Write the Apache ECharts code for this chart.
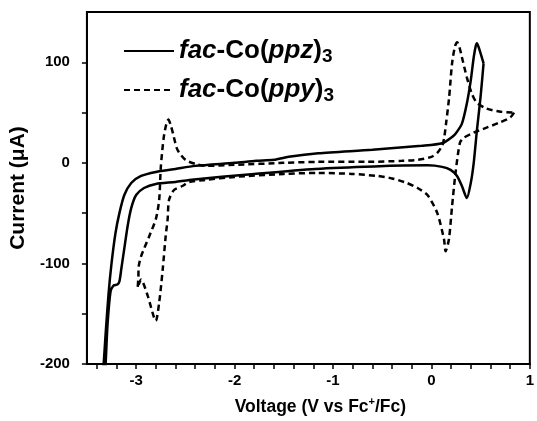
<!DOCTYPE html>
<html>
<head>
<meta charset="utf-8">
<script src="https://cdn.jsdelivr.net/npm/echarts@6/dist/echarts.min.js"></script>
<style>
html,body{margin:0;padding:0;background:#fff;}
#c{width:537px;height:421px;}
</style>
</head>
<body>
<div id="c"></div>
<script>
// fac-Co(ppz)3 : voltage (V vs Fc+/Fc) and current (µA), one closed CV loop
const ppzV = [0.53, 0.50, 0.463, 0.43, 0.40, 0.36, 0.31, 0.26, 0.195, 0.11, -0.04, -0.58, -1.18, -1.8, -2.46, -2.6, -2.8, -2.92, -3.0, -3.05, -3.085, -3.12, -3.15, -3.17, -3.19, -3.23, -3.26, -3.29, -3.31, -3.32,
              -3.345, -3.33, -3.31, -3.28, -3.25, -3.21, -3.17, -3.12, -3.05, -2.95, -2.8, -2.6, -2.4, -2.0, -1.78, -1.6, -1.45, -1.15, -0.6, -0.1, 0.11, 0.2, 0.245, 0.31, 0.36, 0.40, 0.43, 0.45, 0.463, 0.48, 0.53];
const ppzI = [99, 66, 33, 0, -20, -35, -23, -13, -7, -4, -2.5, -3.5, -6, -11, -17, -19, -21, -25, -32, -45, -62, -85, -105, -118, -121, -122, -128, -160, -200, -215,
              -215, -200, -170, -130, -100, -70, -50, -32, -20, -13, -9, -6, -3, 0, 2, 3, 6, 9.5, 13, 17, 19.5, 25, 29, 39, 59, 82, 105, 116, 119, 115, 99];

// fac-Co(ppy)3
const ppyV = [0.84, 0.80, 0.69, 0.56, 0.43, 0.33, 0.29, 0.245, 0.21, 0.178, 0.144, 0.128, 0.06, -0.04, -0.14, -0.25, -0.4, -0.55, -0.81, -1.15, -1.5, -2.0, -2.3, -2.46, -2.53, -2.615, -2.666, -2.68, -2.70, -2.73, -2.766, -2.80,
              -2.883, -2.95, -2.984, -2.977, -2.974, -2.95, -2.867, -2.80, -2.766, -2.749, -2.72, -2.69, -2.672, -2.65, -2.625, -2.58, -2.50, -2.40, -2.30, -2.0, -1.5, -1.15, -0.65, -0.3, -0.14, 0.0, 0.06, 0.11, 0.13, 0.15, 0.18, 0.21, 0.24, 0.262, 0.285, 0.31, 0.36, 0.41, 0.46, 0.56, 0.69, 0.84];
const ppyI = [50, 45, 40, 35, 30, 25, 20, -10, -43, -76, -88, -76, -50, -32, -25, -20, -15.5, -13, -11, -10, -11, -14, -17, -19, -23, -27, -37, -56, -73, -106, -139, -157,
              -132, -116, -124, -113, -103, -93, -73, -56, -37, -4, 25, 40, 43, 38, 29, 13, 3, -1, -3, -2, 0, 1, 1, 2, 3, 6, 10, 17, 25, 40, 65, 99, 116, 120, 115, 105, 85, 69, 60, 54, 51, 50];

const xMajor = [-3, -2, -1, 0, 1];
const yMajor = [-200, -100, 0, 100];

const zip = (a, b) => a.map((v, i) => [v, b[i]]);
const minorX = [];
for (let k = -17; k <= 5; k++) { const v = +(k * 0.2).toFixed(1); if (v > -3.5 && v < 1 && Math.abs(v - Math.round(v)) > 1e-9) minorX.push(v); }
const minorY = [-150, -50, 50];

const FONT = '"Liberation Sans", Arial, sans-serif';
const chart = echarts.init(document.getElementById('c'), null, {renderer: 'canvas'});
const richLegend = {
  bi: {fontFamily: FONT, fontSize: 26, fontWeight: 'bold', fontStyle: 'italic', color: '#000', lineHeight: 30},
  b: {fontFamily: FONT, fontSize: 26, fontWeight: 'bold', color: '#000', lineHeight: 30},
  sub: {fontFamily: FONT, fontSize: 19, fontWeight: 'bold', color: '#000', lineHeight: 12, verticalAlign: 'bottom'}
};
chart.setOption({
  animation: false,
  backgroundColor: '#fff',
  grid: {left: 86, right: 2, top: 12, bottom: 56, show: true, borderColor: '#000', borderWidth: 2, containLabel: false},
  legend: {
    orient: 'vertical', left: 118, top: 33, itemWidth: 50, itemHeight: 20, itemGap: 11,
    data: ['ppz', 'ppy'],
    itemStyle: {color: 'rgba(0,0,0,0)', borderWidth: 0, borderColor: 'rgba(0,0,0,0)'},
    formatter: function (n) {
      return n === 'ppz' ? '{bi|fac}{b|-Co(}{bi|ppz}{b|)}{sub|3}' : '{bi|fac}{b|-Co(}{bi|ppy}{b|)}{sub|3}';
    },
    textStyle: {rich: richLegend}
  },
  xAxis: [{
    type: 'value', min: -3.5, max: 1,
    splitLine: {show: false},
    axisLine: {show: true, onZero: false, lineStyle: {color: '#000', width: 2}},
    axisTick: {show: true, length: 5, customValues: xMajor.concat(minorX), lineStyle: {color: '#000', width: 1.5}},
    axisLabel: {customValues: xMajor, color: '#000', fontFamily: FONT, fontWeight: 'bold', fontSize: 15, margin: 9,
      formatter: v => String(v)},
    name: 'Voltage (V vs Fc{sup|+}/Fc)', nameLocation: 'middle', nameGap: 32,
    nameTextStyle: {color: '#000', fontFamily: FONT, fontWeight: 'bold', fontSize: 17.5, padding: [0, 0, 0, 24],
      rich: {sup: {fontFamily: FONT, fontWeight: 'bold', fontSize: 11, color: '#000', verticalAlign: 'top', lineHeight: 22}}}
  }],
  yAxis: [{
    type: 'value', min: -200, max: 150,
    splitLine: {show: false},
    axisLine: {show: true, onZero: false, lineStyle: {color: '#000', width: 2}},
    axisTick: {show: true, length: 5, customValues: yMajor.concat(minorY), lineStyle: {color: '#000', width: 1.5}},
    axisLabel: {customValues: yMajor, color: '#000', fontFamily: FONT, fontWeight: 'bold', fontSize: 15, margin: 17},
    name: 'Current (\u03bcA)', nameLocation: 'middle', nameGap: 55,
    nameTextStyle: {color: '#000', fontFamily: FONT, fontWeight: 'bold', fontSize: 21}
  }],
  series: [
    {name: 'ppz', type: 'line', data: zip(ppzV, ppzI), symbol: 'none', smooth: 0.25, clip: true,
     lineStyle: {color: '#000', width: 2.5}, itemStyle: {color: '#000'}},
    {name: 'ppy', type: 'line', data: zip(ppyV, ppyI), symbol: 'none', smooth: 0.25, clip: true,
     lineStyle: {color: '#000', width: 2.5, type: [6, 4]}, itemStyle: {color: '#000'}}
  ]
});
</script>
</body>
</html>
